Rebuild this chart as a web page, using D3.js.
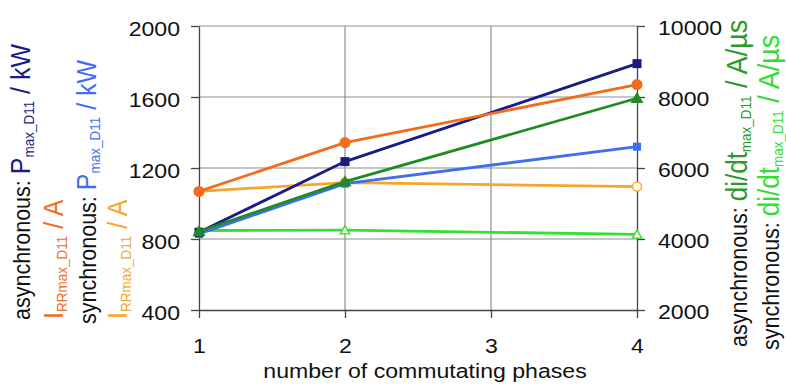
<!DOCTYPE html>
<html>
<head>
<meta charset="utf-8">
<script src="https://cdn.jsdelivr.net/npm/d3@7"></script>
<style>
  html, body { margin: 0; padding: 0; background: #fff; }
  svg { display: block; font-family: "Liberation Sans", Arial, sans-serif; }
</style>
</head>
<body>
<svg id="chart"></svg>
<script>
// Data
const phases = [1, 2, 4];
const xTicks = [1, 2, 3, 4];
const leftTicks = [400, 800, 1200, 1600, 2000];
const rightTicks = [2000, 4000, 6000, 8000, 10000];

// left axis (kW / A)
const asyncP = [838, 1236, 1788];
const asyncIrr = [1068, 1343, 1670];
const syncP = [828, 1112, 1320];
const syncIrr = [1068, 1118, 1095];
// right axis (A/µs)
const asyncDidt = [4210, 5615, 7965];
const syncDidt = [4240, 4250, 4130];

const W = 786, H = 384;
const SX = 1.1; // the picture is a bit wider than tall in its text
const svg = d3.select("#chart").attr("width", W).attr("height", H);
svg.append("rect").attr("width", W).attr("height", H).attr("fill", "#fff");

// scales
const x = d3.scaleLinear().domain([1, 4]).range([199, 637]);
const yL = d3.scaleLinear().domain([400, 2000]).range([310, 26]);
const yR = d3.scaleLinear().domain([2000, 10000]).range([310, 26]);

// grid
const grid = svg.append("g").attr("stroke", "#8e8e8e").attr("stroke-width", 1.2);
grid.selectAll("line.h")
    .data(leftTicks.slice(1))
    .enter().append("line")
    .attr("x1", x(1)).attr("x2", x(4))
    .attr("y1", d => yL(d)).attr("y2", d => yL(d));
grid.selectAll("line.v")
    .data([2, 3])
    .enter().append("line")
    .attr("x1", d => x(d)).attr("x2", d => x(d))
    .attr("y1", yL(2000)).attr("y2", yL(400));

// axes
function styleAxis(g, dy) {
    g.selectAll("path.domain").attr("stroke", "#444").attr("stroke-width", 1.3);
    g.selectAll(".tick line").attr("stroke", "#444").attr("stroke-width", 1.3);
    g.selectAll(".tick text")
        .attr("fill", "#111").attr("font-size", 21)
        .attr("font-family", "Liberation Sans, Arial, sans-serif")
        .attr("x", function() { return +d3.select(this).attr("x") / SX; })
        .attr("transform", `scale(${SX},1)`);
    if (dy) g.selectAll(".tick text").attr("dy", dy);
}

svg.append("g")
    .attr("transform", `translate(${x(1)},0)`)
    .call(d3.axisLeft(yL).tickValues(leftTicks).tickFormat(d3.format("d"))
        .tickSize(8).tickSizeOuter(0).tickPadding(11))
    .call(g => styleAxis(g, "0.45em"));

svg.append("g")
    .attr("transform", `translate(${x(4)},0)`)
    .call(d3.axisRight(yR).tickValues(rightTicks).tickFormat(d3.format("d"))
        .tickSize(8).tickSizeOuter(0).tickPadding(13))
    .call(g => styleAxis(g, "0.42em"));

svg.append("g")
    .attr("transform", `translate(0,${yL(400)})`)
    .call(d3.axisBottom(x).tickValues(xTicks).tickFormat(d3.format("d"))
        .tickSize(8).tickSizeOuter(0).tickPadding(20))
    .call(g => styleAxis(g, null));

// series
const series = [
    { vals: syncIrr, y: yL, color: "#f6a62a", shape: "circle", open: true, size: 9 },
    { vals: syncDidt, y: yR, color: "#33e033", shape: "triangle", open: true, size: 8 },
    { vals: syncP, y: yL, color: "#3f6ff0", shape: "square", open: false, size: 8 },
    { vals: asyncP, y: yL, color: "#1b1b86", shape: "square", open: false, size: 9 },
    { vals: asyncDidt, y: yR, color: "#1f8c22", shape: "triangle", open: false, size: 11 },
    { vals: asyncIrr, y: yL, color: "#f26c1e", shape: "circle", open: false, size: 11 }
];

const line = d3.line();

series.forEach(s => {
    const pts = phases.map((p, i) => [x(p), s.y(s.vals[i])]);
    svg.append("path")
        .attr("d", line(pts))
        .attr("fill", "none")
        .attr("stroke", s.color)
        .attr("stroke-width", 2.8);

    const symType = s.shape === "circle" ? d3.symbolCircle
        : s.shape === "square" ? d3.symbolSquare : d3.symbolTriangle;
    const k = s.shape === "circle" ? 0.8 : (s.shape === "triangle" ? 0.6 : 1);
    const sym = d3.symbol().type(symType).size(s.size * s.size * k);
    svg.selectAll(null)
        .data(pts)
        .enter().append("path")
        .attr("transform", d => `translate(${d[0]},${d[1] + (s.shape === "triangle" ? 1 : 0)})`)
        .attr("d", sym)
        .attr("fill", s.open ? "#fff8e8" : s.color)
        .attr("stroke", s.color)
        .attr("stroke-width", s.open ? 1.4 : 0);
});

// x title
svg.append("text")
    .attr("transform", `translate(425,378) scale(${SX},1)`)
    .attr("text-anchor", "middle")
    .attr("font-size", 21)
    .attr("fill", "#111")
    .text("number of commutating phases");

// vertical axis titles
function vtitle(xb, yb, parts) {
    const t = svg.append("text")
        .attr("transform", `translate(${xb},${yb}) rotate(-90) scale(1,1.12)`)
        .attr("font-size", 21.5);
    parts.forEach(p => {
        const ts = t.append("tspan").attr("fill", p.c).text(p.t);
        if (p.big) ts.attr("font-size", p.big);
        if (p.sub) ts.attr("font-size", 13.5).attr("dy", 4);
        if (p.back) ts.attr("dy", -4);
    });
}

const navy = "#1b1b86", orange = "#f26c1e", blue = "#3f6ff0", lorange = "#f6a62a";
const dgreen = "#2a9a2a", lgreen = "#33dd33";

vtitle(30, 320, [
    { t: "asynchronous: ", c: "#111" },
    { t: "P", c: navy, big: 25 },
    { t: "max_D11", c: navy, sub: true },
    { t: " / kW", c: navy, back: true, big: 25 }
]);
vtitle(63, 319, [
    { t: "I", c: orange, big: 25 },
    { t: "RRmax_D11", c: orange, sub: true },
    { t: " / A", c: orange, back: true, big: 25 }
]);
vtitle(96, 324, [
    { t: "synchronous: ", c: "#111" },
    { t: "P", c: blue, big: 25 },
    { t: "max_D11", c: blue, sub: true },
    { t: " / kW", c: blue, back: true, big: 25 }
]);
vtitle(127, 319, [
    { t: "I", c: lorange, big: 25 },
    { t: "RRmax_D11", c: lorange, sub: true },
    { t: " / A", c: lorange, back: true, big: 25 }
]);
vtitle(747, 347, [
    { t: "asynchronous: ", c: "#111" },
    { t: "di/dt", c: dgreen, big: 26 },
    { t: "max_D11", c: dgreen, sub: true },
    { t: " / A/µs", c: dgreen, back: true, big: 27 }
]);
vtitle(779, 350, [
    { t: "synchronous: ", c: "#111" },
    { t: "di/dt", c: lgreen, big: 26 },
    { t: "max_D11", c: lgreen, sub: true },
    { t: " / A/µs", c: lgreen, back: true, big: 27 }
]);
</script>
</body>
</html>
